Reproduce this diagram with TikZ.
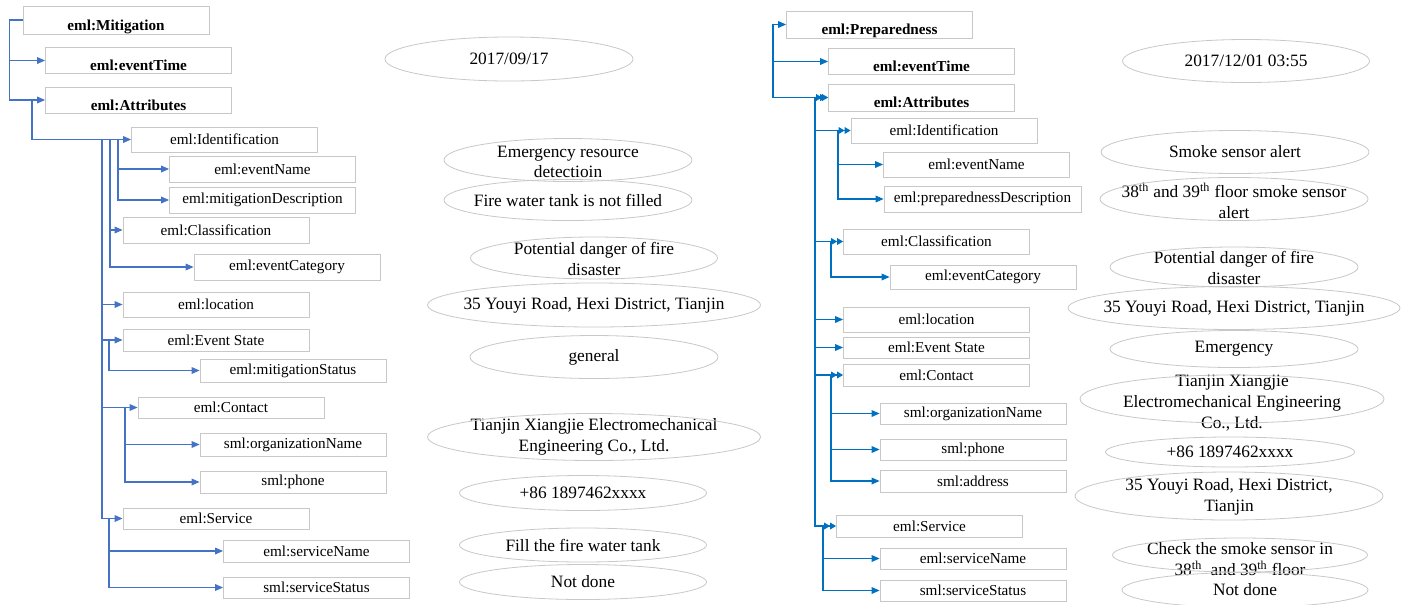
\documentclass[tikz,border=0pt]{standalone}
\usepackage{fontspec}
\setmainfont{Liberation Serif}
\usetikzlibrary{arrows.meta}

\definecolor{lblue}{RGB}{68,114,196}
\definecolor{rblue}{RGB}{0,112,192}
\definecolor{boxgray}{RGB}{200,200,200}
\newdimen\pxu \pxu=0.75pt
\newcommand{\boxfont}{\fontsize{11.4}{13}\selectfont}
\newcommand{\valfont}{\fontsize{13}{15.5}\selectfont}

\tikzset{
  elem/.style={draw=boxgray, line width=0.6pt, minimum width=186\pxu, minimum height=#1\pxu, inner sep=0pt, font=\boxfont},
  elem/.default=25,
  headbox/.style={draw=boxgray, line width=0.6pt, minimum width=186\pxu, minimum height=#1\pxu, inner sep=0pt, text height=17.6pt, text depth=1.9pt, font=\boxfont\bfseries},
  headbox/.default=26,
  val/.style={align=center, font=\valfont, inner sep=0pt},
  valline/.style={draw=boxgray, line width=0.6pt},
  llink/.style={draw=lblue, line width=0.9pt, -{Triangle[length=6pt,width=5pt]}},
  rlink/.style={draw=rblue, line width=0.9pt, -{Triangle[length=6pt,width=5pt]}},
  rlink2/.style={draw=rblue, line width=0.9pt, -{Triangle[length=4.5pt,width=5pt]Triangle[length=4.5pt,width=5pt]}},
}

\begin{document}
\begin{tikzpicture}[x=0.75pt, y=-0.75pt]
\useasboundingbox (0,0) rectangle (1405,604);
\fill[white] (0,0) rectangle (1405,604);

% left tree
\node[headbox=28] (lMit) at (116,20) {eml:Mitigation};
\node[headbox] (lTime) at (138.5,60.5) {eml:eventTime};
\node[headbox] (lAttr) at (138.5,100) {eml:Attributes};
\node[elem] (lIdent) at (224.5,139.5) {eml:Identification};
\node[elem=26] (lName) at (262.5,169) {eml:eventName};
\node[elem=26] (lDesc) at (262.5,200) {eml:mitigationDescription};
\node[elem=26] (lClass) at (216,230) {eml:Classification};
\node[elem=26] (lCat) at (287,267) {eml:eventCategory};
\node[elem] (lLoc) at (216,304.5) {eml:location};
\node[elem=22] (lState) at (216,340) {eml:Event State};
\node[elem=23] (lMStat) at (293,370.5) {eml:mitigationStatus};
\node[elem=21] (lCont) at (231,407.5) {eml:Contact};
\node[elem=23] (lOrg) at (293,444.5) {sml:organizationName};
\node[elem=22] (lPhone) at (293,482) {sml:phone};
\node[elem=21] (lServ) at (216,518.5) {eml:Service};
\node[elem=22] (lSName) at (316.5,551) {eml:serviceName};
\node[elem=21] (lSStat) at (316.5,587.5) {sml:serviceStatus};

\coordinate (lb0) at (9.5,0);
\coordinate (lb1) at (32,0);
\coordinate (lt) at (102,0);
\coordinate (lid) at (118,0);
\coordinate (lcls) at (110,0);
\coordinate (lst) at (109,0);
\coordinate (lct) at (125,0);
\coordinate (lsv) at (109,0);

\draw[llink] (lMit.west) -| (lb0 |- lAttr.west) -- (lAttr.west);
\draw[llink] (lb0 |- lTime.west) -- (lTime.west);
\draw[llink] (lb1 |- lAttr.west) |- (lIdent.west);
\draw[llink] (lt |- lIdent.west) |- (lServ.west);
\draw[llink] (lt |- lLoc.west) -- (lLoc.west);
\draw[llink] (lt |- lState.west) -- (lState.west);
\draw[llink] (lt |- lCont.west) -- (lCont.west);
\draw[llink] (lid |- lIdent.west) |- (lDesc.west);
\draw[llink] (lid |- lName.west) -- (lName.west);
\draw[llink] (lcls |- lIdent.west) |- (lCat.west);
\draw[llink] (lcls |- lClass.west) -- (lClass.west);
\draw[llink] (lst |- lState.west) |- (lMStat.west);
\draw[llink] (lct |- lCont.west) |- (lPhone.west);
\draw[llink] (lct |- lOrg.west) -- (lOrg.west);
\draw[llink] (lsv |- lServ.west) |- (lSStat.west);
\draw[llink] (lsv |- lSName.west) -- (lSName.west);

% left values
\node[val] (lDateV) at (509,59) {2017/09/17};
\draw[valline] (lDateV.center) ellipse [x radius=124\pxu, y radius=22\pxu];
\node[val] (lNameV) at (568,162) {Emergency resource\\detectioin};
\draw[valline] (568,160) ellipse [x radius=124\pxu, y radius=21.5\pxu];
\node[val] (lDescV) at (568,200) {Fire water tank is not filled};
\draw[valline] (lDescV.center) ellipse [x radius=124\pxu, y radius=20.5\pxu];
\node[val] (lCatV) at (594,259) {Potential danger of fire\\disaster};
\draw[valline] (594,258) ellipse [x radius=123.5\pxu, y radius=21\pxu];
\node[val] (lLocV) at (594,305) {35 Youyi Road, Hexi District, Tianjin};
\draw[valline] (lLocV.center) ellipse [x radius=166.5\pxu, y radius=22\pxu];
\node[val] (lStatV) at (594,357) {general};
\draw[valline] (lStatV.center) ellipse [x radius=124\pxu, y radius=21.5\pxu];
\node[val] (lOrgV) at (594,437) {Tianjin Xiangjie Electromechanical\\Engineering Co., Ltd.};
\draw[valline] (lOrgV.center) ellipse [x radius=166.5\pxu, y radius=23.5\pxu];
\node[val] (lPhoneV) at (583,493) {+86 1897462xxxx};
\draw[valline] (lPhoneV.center) ellipse [x radius=123.5\pxu, y radius=17.5\pxu];
\node[val] (lSNameV) at (583,545) {Fill the fire water tank};
\draw[valline] (lSNameV.center) ellipse [x radius=123.5\pxu, y radius=17\pxu];
\node[val] (lSStatV) at (583,582) {Not done};
\draw[valline] (lSStatV.center) ellipse [x radius=123.5\pxu, y radius=17.5\pxu];

% right tree
\node[headbox=27] (rPrep) at (879.5,24.5) {eml:Preparedness};
\node[headbox=25] (rTime) at (921.5,61.5) {eml:eventTime};
\node[headbox=27] (rAttr) at (921.5,97.5) {eml:Attributes};
\node[elem] (rIdent) at (944,130.5) {eml:Identification};
\node[elem] (rName) at (976.5,164.5) {eml:eventName};
\node[elem=26, minimum width=197\pxu] (rDesc) at (982.5,199) {eml:preparednessDescription};
\node[elem] (rClass) at (936.5,241.5) {eml:Classification};
\node[elem=24] (rCat) at (983,277) {eml:eventCategory};
\node[elem] (rLoc) at (936.5,319.5) {eml:location};
\node[elem=21] (rState) at (936.5,347.5) {eml:Event State};
\node[elem=22] (rCont) at (936.5,375) {eml:Contact};
\node[elem=21] (rOrg) at (973,413.5) {sml:organizationName};
\node[elem=21] (rPhone) at (973,449.5) {sml:phone};
\node[elem=22] (rAddr) at (973,481) {sml:address};
\node[elem=22] (rServ) at (929.5,526) {eml:Service};
\node[elem=21] (rSName) at (973,558.5) {eml:serviceName};
\node[elem=21] (rSStat) at (973,590.5) {sml:serviceStatus};

\coordinate (rb0) at (773,0);
\coordinate (rt) at (815,0);
\coordinate (rid) at (838,0);
\coordinate (rcls) at (831,0);
\coordinate (rct) at (831,0);
\coordinate (rsv) at (823,0);

\draw[rlink] (rb0 |- rAttr.west) |- (rPrep.west);
\draw[rlink] (rb0 |- rTime.west) -- (rTime.west);
\draw[rlink] (rb0 |- rAttr.west) -- (rAttr.west);
\draw[rlink2] (rt |- rAttr.west) -- (rAttr.west);
\draw[rlink2] (rt |- rAttr.west) |- (rServ.west);
\draw[rlink2] (rt |- rIdent.west) -- (rIdent.west);
\draw[rlink2] (rt |- rClass.west) -- (rClass.west);
\draw[rlink] (rt |- rLoc.west) -- (rLoc.west);
\draw[rlink] (rt |- rState.west) -- (rState.west);
\draw[rlink2] (rt |- rCont.west) -- (rCont.west);
\draw[rlink] (rid |- rIdent.west) |- (rDesc.west);
\draw[rlink] (rid |- rName.west) -- (rName.west);
\draw[rlink] (rcls |- rClass.west) |- (rCat.west);
\draw[rlink] (rct |- rCont.west) |- (rAddr.west);
\draw[rlink] (rct |- rOrg.west) -- (rOrg.west);
\draw[rlink] (rct |- rPhone.west) -- (rPhone.west);
\draw[rlink] (rsv |- rServ.west) |- (rSStat.west);
\draw[rlink] (rsv |- rSName.west) -- (rSName.west);

% right values
\node[val] (rDateV) at (1246,61) {2017/12/01 03:55};
\draw[valline] (rDateV.center) ellipse [x radius=123.5\pxu, y radius=21.5\pxu];
\node[val] (rNameV) at (1235,152) {Smoke sensor alert};
\draw[valline] (rNameV.center) ellipse [x radius=134\pxu, y radius=21.5\pxu];
\node[val] (rDescV) at (1234,201) {38\textsuperscript{th} and 39\textsuperscript{th} floor smoke sensor\\alert};
\draw[valline] (1234,199) ellipse [x radius=134\pxu, y radius=21.5\pxu];
\node[val] (rCatV) at (1234,268) {Potential danger of fire\\disaster};
\draw[valline] (1234,267) ellipse [x radius=124\pxu, y radius=20\pxu];
\node[val] (rLocV) at (1234,308) {35 Youyi Road, Hexi District, Tianjin};
\draw[valline] (rLocV.center) ellipse [x radius=166\pxu, y radius=21.5\pxu];
\node[val] (rStatV) at (1234,349) {Emergency};
\draw[valline] (rStatV.center) ellipse [x radius=124\pxu, y radius=18.5\pxu];
\node[val] (rOrgV) at (1232,403) {Tianjin Xiangjie\\Electromechanical Engineering\\Co., Ltd.};
\draw[valline] (1232,399) ellipse [x radius=152\pxu, y radius=24\pxu];
\node[val] (rPhoneV) at (1230,452) {+86 1897462xxxx};
\draw[valline] (rPhoneV.center) ellipse [x radius=124.5\pxu, y radius=15\pxu];
\node[val] (rAddrV) at (1229,497) {35 Youyi Road, Hexi District,\\Tianjin};
\draw[valline] (1229,496) ellipse [x radius=154\pxu, y radius=24\pxu];
\node[val] (rSNameV) at (1240,559) {Check the smoke sensor in\\38\textsuperscript{th}\ \ and 39\textsuperscript{th} floor};
\draw[valline] (1240,555) ellipse [x radius=127.5\pxu, y radius=17\pxu];
\node[val] (rSStatV) at (1245,590) {Not done};
\draw[valline] (rSStatV.center) ellipse [x radius=123\pxu, y radius=17.5\pxu];
\end{tikzpicture}
\end{document}
